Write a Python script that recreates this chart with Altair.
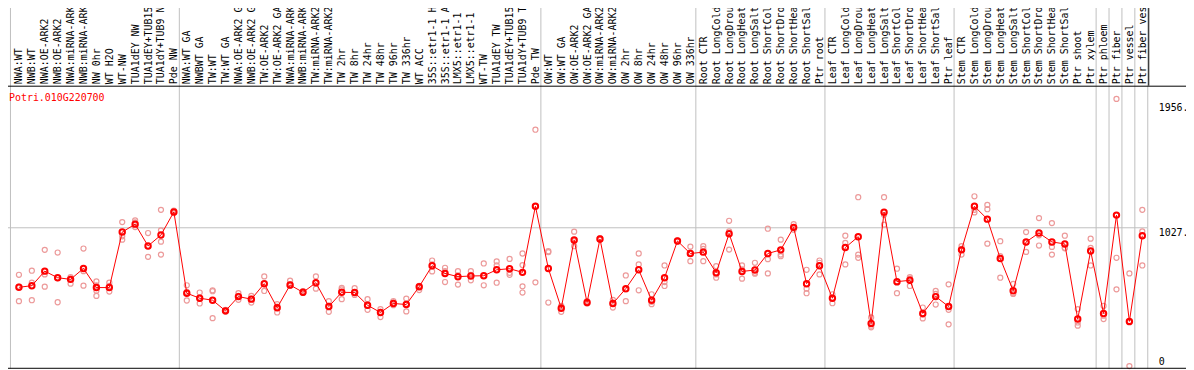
import altair as alt
import pandas as pd

gene = "Potri.010G220700"

group_labels = [
    ["NWA:WT", "NWB:WT", "NWA:OE-ARK2", "NWB:OE-ARK2", "NWA:miRNA-ARK2", "NWB:miRNA-ARK2",
     "NW 0hr", "WT H2O", "WT-NW", "TUA1dEY NW", "TUA1dEY+TUB15 NW", "TUA1dY+TUB9 NW", "Pde NW"],
    ["NWA:WT GA", "NWBWT GA", "TW:WT", "TW:WT GA", "NWA:OE-ARK2 GA", "NWB:OE-ARK2 GA",
     "TW:OE-ARK2", "TW:OE-ARK2 GA", "NWA:miRNA-ARK2 GA", "NWB:miRNA-ARK2 GA", "TW:miRNA-ARK2",
     "TW:miRNA-ARK2 GA", "TW 2hr", "TW 8hr", "TW 24hr", "TW 48hr", "TW 96hr", "TW 336hr",
     "WT ACC", "35S::etr1-1 H2O", "35S::etr1-1 ACC", "LMX5::etr1-1 H2O", "LMX5::etr1-1 ACC",
     "WT-TW", "TUA1dEY TW", "TUA1dEY+TUB15 TW", "TUA1dY+TUB9 TW", "Pde TW"],
    ["OW:WT", "OW:WT GA", "OW:OE-ARK2", "OW:OE-ARK2 GA", "OW:miRNA-ARK2", "OW:miRNA-ARK2 GA",
     "OW 2hr", "OW 8hr", "OW 24hr", "OW 48hr", "OW 96hr", "OW 336hr"],
    ["Root CTR", "Root LongCold", "Root LongDrought", "Root LongHeat", "Root LongSalt",
     "Root ShortCold", "Root ShortDrought", "Root ShortHeat", "Root ShortSalt", "Ptr root"],
    ["Leaf CTR", "Leaf LongCold", "Leaf LongDrought", "Leaf LongHeat", "Leaf LongSalt",
     "Leaf ShortCold", "Leaf ShortDrought", "Leaf ShortHeat", "Leaf ShortSalt", "Ptr leaf"],
    ["Stem CTR", "Stem LongCold", "Stem LongDrought", "Stem LongHeat", "Stem LongSalt",
     "Stem ShortCold", "Stem ShortDrought", "Stem ShortHeat", "Stem ShortSalt",
     "Ptr shoot", "Ptr xylem"],
    ["Ptr phloem"],
    ["Ptr fiber"],
    ["Ptr vessel"],
    ["Ptr fiber vessel"],
]
labels = [l for g in group_labels for l in g]

means = [
    585, 597, 705, 656, 644, 725, 583, 583, 995, 1054, 892, 973, 1145,
    541, 504, 489, 410, 516, 497, 612, 433, 602, 548, 619, 442, 548, 546, 452, 398, 465, 457,
    590, 745, 688, 664, 669, 671, 715, 723, 696, 1187,
    725, 430, 936, 472, 944, 465, 575, 715, 489, 656, 929, 836,
    846, 693, 983, 703, 713, 836, 863, 1030, 612, 745,
    504, 880, 961, 317, 1143, 627, 637, 391, 516, 442,
    863, 1187, 1091, 799, 560, 922, 988, 922, 907, 349, 855,
    391, 1121, 332, 968,
]

reps = [
    [678, 590, 482], [708, 619, 489], [863, 681, 590], [843, 654, 474], [661, 612, 649],
    [873, 705, 597], [629, 560, 521, 600], [619, 553, 595], [1069, 964, 939], [1082, 1032, 1067],
    [988, 890, 811], [1160, 1008, 924, 828], [1155, 1145, 1136],
    [600, 551, 487], [546, 465, 509], [563, 556, 356], [415, 403, 418], [541, 492, 521],
    [521, 472, 501], [666, 558, 612], [460, 398, 442], [634, 595, 607], [556, 546, 543],
    [666, 575, 617], [482, 403, 447], [580, 497, 570], [578, 528, 541], [497, 418, 447],
    [423, 364, 403], [482, 452, 472], [501, 406, 462], [595, 565, 583], [784, 703, 755],
    [730, 624, 705], [705, 605, 673], [705, 637, 678], [762, 600, 669], [777, 619, 747],
    [796, 678, 693], [836, 750, 592, 546], [1755, 1185, 622],
    [853, 846, 472], [442, 403, 447], [998, 890, 927], [482, 465, 472], [951, 939, 941],
    [492, 435, 472], [673, 482, 570], [836, 755, 563], [533, 460, 477], [747, 624, 595],
    [934, 924, 929], [887, 779, 841],
    [890, 870, 779], [742, 656, 681], [1079, 1000, 865], [747, 649, 718], [767, 686, 693],
    [1020, 794, 688], [939, 828, 816], [1054, 1013, 1025], [715, 575, 541], [784, 681, 767],
    [533, 467, 509], [968, 755, 914], [1254, 828, 804], [361, 288, 300], [1254, 1050, 1123],
    [723, 541, 619], [661, 595, 649], [435, 354, 383], [558, 457, 536], [607, 310, 418],
    [890, 828, 870], [1261, 1141, 1160], [1197, 1165, 909], [927, 816, 656], [610, 536, 541],
    [995, 848, 919], [1099, 895, 971], [1062, 885, 828], [968, 878, 875], [423, 300, 324],
    [946, 878, 747],
    [447, 349, 374], [1984, 804, 570], [688, 0, 324], [1160, 1000, 747],
]

ytick_values = [0, 1027, 1956]
ytick_texts = ["0", "1027.", "1956."]
grid_values = [1027]

FONT = "DejaVu Sans Mono"
RED = "#ff0000"
PINK = "#ec9a9a"
GRID = "#c0c0c0"

mean_df = pd.DataFrame({"label": labels, "value": means, "idx": list(range(len(labels)))})
rep_df = pd.DataFrame([{"label": l, "value": v} for l, vs in zip(labels, reps) for v in vs])
sep_df = pd.DataFrame({"label": [g[-1] for g in group_labels]})
first_df = pd.DataFrame({"label": [labels[0]]})
grid_df = pd.DataFrame({"value": grid_values})
title_df = pd.DataFrame({"gene": [gene]})

label_expr = ("[" + ",".join(f"'{t}'" for t in ytick_texts) + "][indexof(["
              + ",".join(str(v) for v in ytick_values) + "], datum.value)]")

xscale = alt.Scale(type="point", domain=labels, range=[11, 1142], padding=0)
xenc = alt.X(
    "label:N", scale=xscale,
    axis=alt.Axis(orient="top", title=None, labelAngle=270, labelAlign="left",
                  labelBaseline="middle", labelPadding=2, ticks=False, domain=False,
                  labelFont=FONT, labelFontSize=10, labelColor="black", labelLimit=300,
                  labelOverlap=False, grid=False),
)
yscale = alt.Scale(domain=[-20, 2082], nice=False, zero=False)
yenc = alt.Y(
    "value:Q", scale=yscale,
    axis=alt.Axis(orient="right", values=ytick_values, labelExpr=label_expr, title=None,
                  grid=False, ticks=False, tickSize=0, domain=False, labelPadding=11,
                  labelFont=FONT, labelFontSize=10, labelColor="black", labelAlign="left",
                  labelFlush=False,
                  labelBaseline={"condition": {"test": "datum.value == 0", "value": "bottom"},
                                 "value": "top"}),
)

grid = alt.Chart(grid_df).mark_rule(color=GRID, strokeWidth=1).encode(y=yenc)

seps = alt.Chart(sep_df).mark_rule(color=GRID, strokeWidth=1, xOffset=5.5).encode(
    x=xenc, y=alt.value(-85), y2=alt.value(285))
first = alt.Chart(first_df).mark_rule(color=GRID, strokeWidth=1, xOffset=-8.5).encode(
    x=xenc, y=alt.value(-85), y2=alt.value(285))

rep_pts = alt.Chart(rep_df).mark_point(shape="circle", filled=False, color=PINK, size=26,
                                       strokeWidth=1.2, opacity=1).encode(x=xenc, y=yenc)
line = alt.Chart(mean_df).mark_line(color=RED, strokeWidth=1).encode(
    x=xenc, y=yenc, order=alt.Order("idx:Q"))
mean_pts = alt.Chart(mean_df).mark_point(shape="circle", filled=False, color=RED, size=30,
                                         strokeWidth=2, opacity=1).encode(x=xenc, y=yenc)

title = alt.Chart(title_df).mark_text(align="left", baseline="alphabetic", font=FONT,
                                      fontSize=10, color=RED).encode(
    x=alt.value(1), y=alt.value(15), text="gene:N")

frame_base = alt.Chart(title_df).mark_rule(color="black", strokeWidth=1)
header_line = frame_base.encode(x=alt.value(-10), x2=alt.value(1186), y=alt.value(0.5))
bottom_line = frame_base.encode(x=alt.value(-10), x2=alt.value(1186), y=alt.value(284.5))
top_line = frame_base.encode(x=alt.value(-10), x2=alt.value(1186), y=alt.value(-84.5))
left_line = frame_base.encode(x=alt.value(-5.5), y=alt.value(-85), y2=alt.value(285))
header_right = frame_base.encode(x=alt.value(1148.5), y=alt.value(-85), y2=alt.value(0))

chart = alt.layer(
    grid, seps, first, rep_pts, line, mean_pts, title,
    header_line, bottom_line, top_line, left_line, header_right,
).properties(
    width=1147, height=285, autosize="none",
    padding={"left": 0, "top": 77, "right": 39, "bottom": 0},
).configure_view(stroke=None)

chart.save("out.html", embed_options={"renderer": "svg", "actions": False})
